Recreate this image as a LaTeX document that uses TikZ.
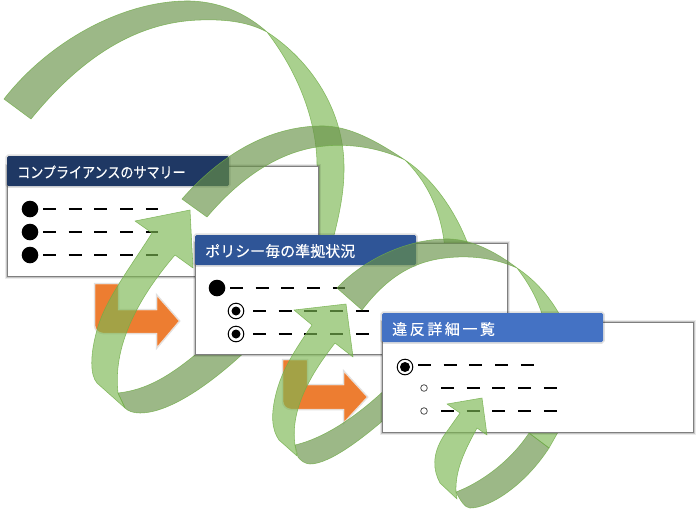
\documentclass[tikz,border=0pt]{standalone}
\usepackage{fontspec}
\setmainfont{Noto Sans CJK JP}
\begin{document}
\begin{tikzpicture}[x=1pt,y=-1pt,
  lightband/.style={fill={rgb,255:red,124;green,183;blue,82},fill opacity=.65,draw={rgb,255:red,112;green,173;blue,71},draw opacity=.8,line width=.55pt,line join=round},
  darkband/.style={fill={rgb,255:red,104;green,146;blue,72},fill opacity=.65,draw={rgb,255:red,112;green,173;blue,71},draw opacity=.8,line width=.55pt,line join=round},
  panel/.style={fill=white,draw={rgb,255:red,127;green,127;blue,127},line width=1pt,
    preaction={draw=black,draw opacity=.08,line width=5pt},
    preaction={draw=black,draw opacity=.16,line width=3pt}},
  headbar/.style={rounded corners=1.5pt,
    preaction={draw=black,draw opacity=.12,line width=3.5pt}},
  headtext/.style={text=white,anchor=west,inner sep=0pt,font=\fontsize{15}{15}\selectfont\addfontfeature{FakeBold=.3}},
  turnarrow/.style={fill={rgb,255:red,237;green,125;blue,49},draw=white,draw opacity=.6,line width=.5pt,line join=round,
    preaction={draw=black,draw opacity=.12,line width=2.5pt}},
  dashrow/.style={draw=black,line width=1.2pt,dash pattern=on 13pt off 12.7pt},
  bigdot/.style={fill=black},
  ringdot/.style={draw=black,fill=white,line width=1pt},
  smalldot/.style={draw=black!70,fill=white,line width=.8pt}]
\useasboundingbox (0,0) rectangle (700,509);
\fill[white] (0,0) rectangle (700,509);

% ---------- ribbon 1, part behind panel 1
\path[lightband] (267,32) .. controls (310,60) and (345,110) .. (344,170) .. controls (344,190) and (340,215) .. (330,250)
  -- (300,250) -- (317,170) .. controls (318,125) and (300,75) .. (267,32) -- cycle;
% ---------- panel 1
\path[panel] (7,166) rectangle (318,276);
\foreach \yy in {209,232,255}{
  \fill[bigdot] (30,\yy) circle (8.3);
  \draw[dashrow] (43,\yy) -- ++(115,0);
}
\path[headbar,fill={rgb,255:red,31;green,56;blue,100}] (7,156) rectangle (229,186);
\node[headtext] (t1) at (17,172) {\scalebox{.87}[1]{コンプライアンスのサマリー}};
% ---------- orange arrow 1
\path[turnarrow] (95,284) -- (118,284) -- (118,310) -- (157,310) -- (157,296) -- (179,321) -- (157,347) -- (157,333) -- (103,333) arc[start angle=90,end angle=180,radius=8] -- cycle;
% ---------- ribbon 1, front parts
\path[darkband] (4,99) .. controls (50,40) and (125,0) .. (190,1) .. controls (225,2) and (250,17) .. (267,32)
  .. controls (250,23) and (230,19) .. (200,20) .. controls (130,22) and (75,65) .. (31,119) -- cycle;
\path[darkband] (255,342) .. controls (225,372) and (175,413) .. (140,413) .. controls (133,413) and (128,411) .. (125,408)
  -- (118,393) .. controls (145,390) and (170,378) .. (210,342) -- cycle;
\path[lightband] (125,408) -- (97,383) .. controls (90,375) and (90,355) .. (97,330) .. controls (105,300) and (130,268) .. (152,233)
  -- (135,221) -- (190,210) -- (193,268) -- (175,255)
  .. controls (145,290) and (112,340) .. (118,393) -- cycle;

% ---------- ribbon 2, part behind panel 2
\path[lightband] (405,160) .. controls (435,180) and (458,215) .. (470,250)
  -- (445,250) .. controls (442,215) and (430,185) .. (405,160) -- cycle;
% ---------- panel 2
\path[panel] (195,243) rectangle (507,354);
\fill[bigdot] (217,288) circle (8.3);
\draw[dashrow] (230,288) -- ++(115,0);
\foreach \yy in {311,334}{
  \path[ringdot] (236,\yy) circle (7.8);
  \fill[bigdot] (236,\yy) circle (4.5);
  \draw[dashrow] (253,\yy) -- ++(116,0);
}
\path[headbar,fill={rgb,255:red,47;green,85;blue,151}] (195,235) rectangle (416,265);
\node[headtext] (t2) at (205,251) {ポリシー毎の準拠状況};
% ---------- orange arrow 2
\path[turnarrow] (283,360) -- (307,360) -- (307,385) -- (344,385) -- (344,372) -- (367,397) -- (344,422) -- (344,409) -- (291,409) arc[start angle=90,end angle=180,radius=8] -- cycle;
% ---------- ribbon 2, front parts
\path[darkband] (182,199) .. controls (225,150) and (275,125) .. (325,126) .. controls (355,127) and (385,147) .. (405,160)
  .. controls (385,150) and (355,143) .. (325,146) .. controls (280,150) and (240,178) .. (207,217) -- cycle;
\path[darkband] (395,410) .. controls (365,437) and (330,464) .. (310,464) .. controls (305,464) and (300,460) .. (298,457)
  -- (295,445) .. controls (325,438) and (360,415) .. (395,380) -- cycle;
\path[lightband] (297,456) -- (279,440) .. controls (272,430) and (270,415) .. (277,390) .. controls (284,365) and (300,343) .. (312,325)
  -- (294,310) -- (346,304) -- (353,357) -- (335,343)
  .. controls (310,375) and (290,410) .. (295,445) -- cycle;

% ---------- ribbon 3, parts behind panel 3
\path[lightband] (517,268) .. controls (535,280) and (552,298) .. (565,325)
  -- (545,325) .. controls (540,303) and (530,285) .. (517,268) -- cycle;
\path[lightband] (529,433) -- (549,448) -- (562,425) -- (535,425) -- cycle;
% ---------- panel 3
\path[panel] (382,322) rectangle (693,432);
\path[ringdot] (405,367) circle (7.8);
\fill[bigdot] (405,367) circle (5);
\draw[dashrow] (418,365) -- ++(116,0);
\foreach \yy in {388,411}{
  \path[smalldot] (424,\yy) circle (3.3);
  \draw[dashrow] (441,\yy) -- ++(116,0);
}
\path[headbar,fill={rgb,255:red,68;green,114;blue,196}] (382,313) rectangle (603,342);
\node[headtext,font=\fontsize{15}{15}\selectfont\addfontfeature{FakeBold=.3,LetterSpace=17}] (t3) at (392,329) {違反詳細一覧};
% ---------- ribbon 3, front parts
\path[darkband] (337,288) .. controls (365,258) and (410,238) .. (450,239) .. controls (475,240) and (500,255) .. (517,268)
  .. controls (495,258) and (470,255) .. (445,258) .. controls (410,262) and (385,280) .. (362,310) -- cycle;
\path[darkband] (549,448) .. controls (525,485) and (490,508) .. (470,508) .. controls (465,508) and (460,500) .. (456,492)
  .. controls (480,483) and (510,462) .. (529,433) -- cycle;
\path[lightband] (457,499) -- (440,483) .. controls (433,470) and (432,455) .. (443,437) -- (460,413)
  -- (447,404) -- (482,398) -- (487,435) -- (477,428)
  .. controls (465,450) and (455,470) .. (456,492) -- cycle;
\end{tikzpicture}
\end{document}
